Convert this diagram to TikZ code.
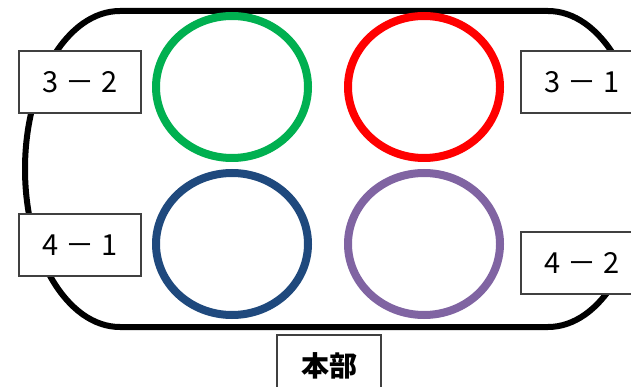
\documentclass[tikz,border=0pt]{standalone}
\usepackage{fontspec}
\usepackage{tikz}
\newfontfamily\cjk{Noto Sans CJK JP}
\definecolor{ringgreen}{HTML}{00B050}
\definecolor{ringred}{HTML}{FF0000}
\definecolor{ringblue}{HTML}{1F497D}
\definecolor{ringpurple}{HTML}{8064A2}
\newcommand{\gap}{\hspace{0.25em}}

\begin{document}
\begin{tikzpicture}[x=1pt,y=-1pt,
  ring/.style={line width=8pt},
  court/.style={line width=6pt},
  tag/.style={draw=black!75,line width=1.2pt,fill=white,minimum width=122pt,minimum height=62pt,font=\cjk\fontsize{29}{31}\selectfont}]
\useasboundingbox (0,0) rectangle (631,387);
\clip (0,0) rectangle (631,387);
\draw[court] (120,11) -- (548,11) arc[start angle=-90,end angle=90,x radius=95,y radius=158]
  -- (120,327) arc[start angle=90,end angle=270,x radius=95,y radius=158] -- cycle;

\draw[ring,ringgreen] (232,87) ellipse[x radius=76,y radius=71];
\draw[ring,ringred] (424,87) ellipse[x radius=76,y radius=71];
\draw[ring,ringblue] (232,244) ellipse[x radius=76,y radius=71];
\draw[ring,ringpurple] (424,244) ellipse[x radius=76,y radius=71];

\node[tag] (t32) at (80,82) {3\gap －\gap 2};
\node[tag] (t31) at (582,82) {3\gap －\gap 1};
\node[tag] (t41) at (80,245) {4\gap －\gap 1};
\node[tag] (t42) at (582,263) {4\gap －\gap 2};
\node[tag,minimum width=104pt,font=\cjk\bfseries\fontsize{28}{30}\selectfont] (hq) at (329,366) {本部};
\end{tikzpicture}
\end{document}
